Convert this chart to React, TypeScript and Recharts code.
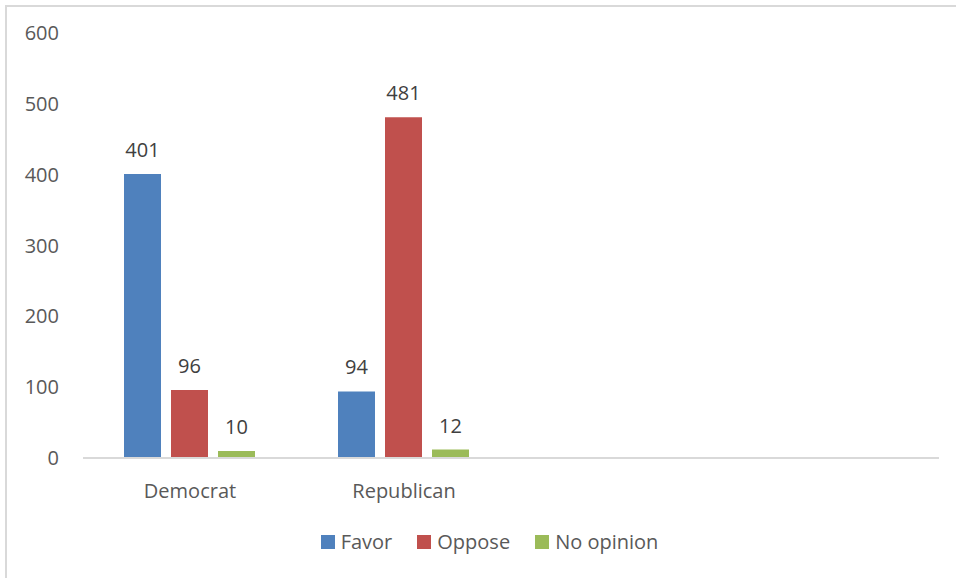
import { BarChart, Bar, XAxis, YAxis, Legend, LabelList } from "recharts";

const categories = ["Democrat", "Republican", " ", "  "];
const favor = [401, 94, null, null];
const oppose = [96, 481, null, null];
const noOpinion = [10, 12, null, null];
const yTicks = [0, 100, 200, 300, 400, 500, 600];

const seriesNames = ["Favor", "Oppose", "No opinion"];
const seriesColors = ["#4f81bd", "#c0504d", "#9bbb59"];

const chartData = categories.map((name, i) => ({
  name,
  favor: favor[i],
  oppose: oppose[i],
  noOpinion: noOpinion[i],
}));

const FONT = "'Open Sans', sans-serif";

// Excel-style legend: square swatch + text, in series order
function LegendContent() {
  return (
    <div style={{ display: "flex", justifyContent: "center", paddingTop: 10, paddingLeft: 40 }}>
      {seriesNames.map((n, i) => (
        <div key={n} style={{ display: "flex", alignItems: "center", marginLeft: i === 0 ? 0 : 25 }}>
          <span style={{ width: 14, height: 14, background: seriesColors[i], display: "inline-block", marginRight: 6 }} />
          <span style={{ color: "#595959", fontSize: 20, fontFamily: FONT }}>{n}</span>
        </div>
      ))}
    </div>
  );
}

function App() {
  return (
    <div style={{ position: "absolute", left: 0, top: 0, width: 956, height: 578, overflow: "hidden", background: "#fff" }}>
      <div
        style={{
          position: "absolute",
          left: 5,
          top: 5,
          width: 1000,
          height: 1000,
          border: "2px solid #d9d9d9",
        }}
      />
      <BarChart
        width={956}
        height={578}
        data={chartData}
        margin={{ top: 33, right: 17, bottom: 10, left: 0 }}
        barGap={10}
        barCategoryGap={41}
        style={{ fontFamily: FONT }}
      >
        <XAxis
          dataKey="name"
          axisLine={{ stroke: "#d9d9d9", strokeWidth: 2 }}
          tickLine={false}
          tick={{ fontSize: 20, fill: "#595959" }}
          tickMargin={20}
          height={60}
        />
        <YAxis
          domain={[0, 600]}
          ticks={yTicks}
          axisLine={false}
          tickLine={false}
          tickSize={0}
          tickMargin={24}
          width={83}
          tick={{ fontSize: 20, fill: "#595959" }}
        />
        <Legend verticalAlign="bottom" height={50} content={<LegendContent />} />
        <Bar dataKey="favor" name="Favor" fill={seriesColors[0]} isAnimationActive={false}>
          <LabelList dataKey="favor" position="top" offset={17} fill="#404040" fontSize={20} />
        </Bar>
        <Bar dataKey="oppose" name="Oppose" fill={seriesColors[1]} isAnimationActive={false}>
          <LabelList dataKey="oppose" position="top" offset={17} fill="#404040" fontSize={20} />
        </Bar>
        <Bar dataKey="noOpinion" name="No opinion" fill={seriesColors[2]} isAnimationActive={false}>
          <LabelList dataKey="noOpinion" position="top" offset={17} fill="#404040" fontSize={20} />
        </Bar>
      </BarChart>
    </div>
  );
}

export default App;
